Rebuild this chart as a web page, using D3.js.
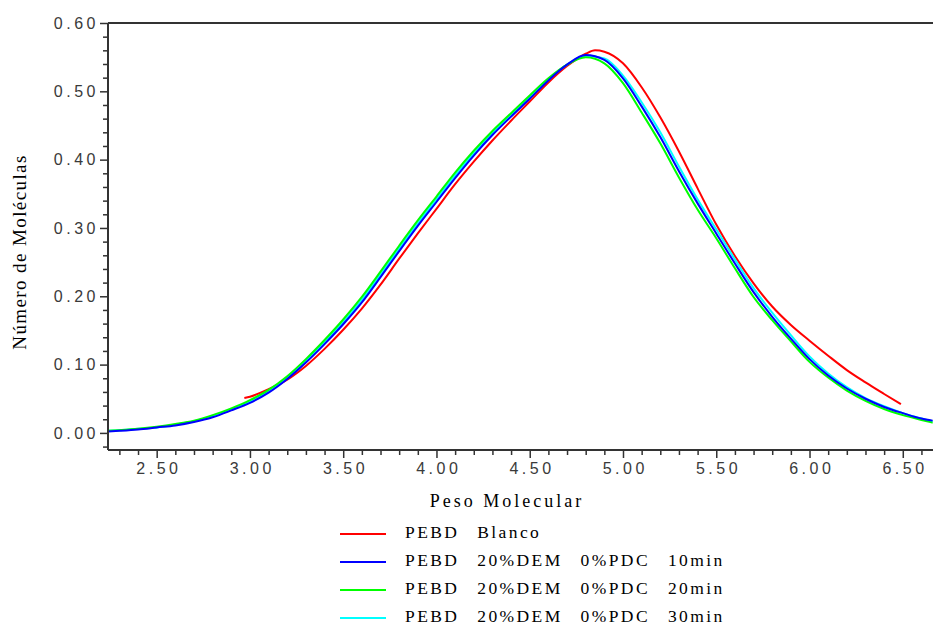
<!DOCTYPE html>
<html>
<head>
<meta charset="utf-8">
<script src="https://cdn.jsdelivr.net/npm/d3@7/dist/d3.min.js"></script>
<style>
  html, body { margin: 0; padding: 0; background: #fff; }
  svg { display: block; }
</style>
</head>
<body>
<svg id="chart" width="933" height="626"></svg>
<script>
// ---------------- data ----------------
const xBase = [2.24, 2.3, 2.4, 2.5, 2.6, 2.7, 2.8, 2.9, 3.0, 3.1, 3.2, 3.3, 3.4, 3.5, 3.6, 3.7, 3.8, 3.9,
  4.0, 4.1, 4.2, 4.3, 4.4, 4.5, 4.6, 4.7, 4.8, 4.9, 5.0, 5.1, 5.2, 5.3, 5.4, 5.5, 5.6, 5.7, 5.8, 5.9,
  6.0, 6.1, 6.2, 6.3, 6.4, 6.5, 6.6, 6.66];

const blue10 = [0.002, 0.003, 0.005, 0.008, 0.011, 0.016, 0.023, 0.033, 0.044, 0.059, 0.079, 0.103, 0.130,
  0.159, 0.191, 0.228, 0.266, 0.303, 0.338, 0.373, 0.406, 0.436, 0.463, 0.489, 0.516, 0.539, 0.553, 0.546,
  0.519, 0.478, 0.433, 0.383, 0.336, 0.292, 0.248, 0.206, 0.170, 0.138, 0.108, 0.084, 0.065, 0.050, 0.038,
  0.029, 0.021, 0.018];

const green20 = [0.003, 0.004, 0.006, 0.009, 0.013, 0.018, 0.026, 0.036, 0.048, 0.063, 0.083, 0.108, 0.136,
  0.166, 0.199, 0.236, 0.274, 0.311, 0.346, 0.381, 0.413, 0.442, 0.468, 0.494, 0.519, 0.539, 0.550, 0.541,
  0.512, 0.469, 0.424, 0.374, 0.327, 0.285, 0.241, 0.199, 0.165, 0.134, 0.104, 0.081, 0.062, 0.047, 0.035,
  0.026, 0.019, 0.015];

const cyan30 = [0.003, 0.004, 0.006, 0.008, 0.012, 0.017, 0.024, 0.034, 0.046, 0.061, 0.081, 0.106, 0.133,
  0.162, 0.195, 0.232, 0.270, 0.307, 0.342, 0.377, 0.409, 0.439, 0.465, 0.491, 0.517, 0.539, 0.552, 0.548,
  0.523, 0.484, 0.440, 0.390, 0.342, 0.298, 0.254, 0.212, 0.176, 0.143, 0.112, 0.087, 0.067, 0.051, 0.039,
  0.029, 0.021, 0.017];

const xRed = [2.97, 3.0, 3.1, 3.2, 3.3, 3.4, 3.5, 3.6, 3.7, 3.8, 3.9, 4.0, 4.1, 4.2, 4.3, 4.4, 4.5, 4.6,
  4.7, 4.8, 4.85, 4.9, 5.0, 5.1, 5.2, 5.3, 5.4, 5.5, 5.6, 5.7, 5.8, 5.9, 6.0, 6.1, 6.2, 6.3, 6.4, 6.49];
const redBlanco = [0.051, 0.053, 0.064, 0.078, 0.098, 0.123, 0.151, 0.182, 0.217, 0.255, 0.292, 0.328,
  0.364, 0.397, 0.428, 0.457, 0.485, 0.513, 0.537, 0.555, 0.560, 0.558, 0.541, 0.506, 0.462, 0.412, 0.358,
  0.305, 0.259, 0.219, 0.185, 0.158, 0.135, 0.113, 0.092, 0.074, 0.057, 0.042];

const seriesNames = ["PEBD  Blanco", "PEBD  20%DEM  0%PDC  10min", "PEBD  20%DEM  0%PDC  20min", "PEBD  20%DEM  0%PDC  30min"];
const seriesColors = ["#ff0000", "#0000ff", "#00ff00", "#00ffff"];

const xMajorTicks = [2.5, 3.0, 3.5, 4.0, 4.5, 5.0, 5.5, 6.0, 6.5];
const yMajorTicks = [0.0, 0.1, 0.2, 0.3, 0.4, 0.5, 0.6];
const xTitle = "Peso Molecular";
const yTitle = "Número de Moléculas";

// ---------------- drawing ----------------
(function () {
const svg = d3.select("#chart");
const pL = 108, pR = 933, pT = 23, pB = 450;

const x = d3.scaleLinear().domain([2.239, 6.662]).range([pL, pR]);
const y = d3.scaleLinear().domain([-0.025, 0.6]).range([pB, pT]);

const axisColor = "#333";
const tickFont = "'Liberation Sans', Arial, sans-serif";
const serif = "'Liberation Serif', 'DejaVu Serif', serif";

// curves
const series = [
  { xs: xRed, ys: redBlanco, color: seriesColors[0] },
  { xs: xBase, ys: cyan30, color: seriesColors[3] },
  { xs: xBase, ys: green20, color: seriesColors[2] },
  { xs: xBase, ys: blue10, color: seriesColors[1] }
];
const line = d3.line().x(d => x(d[0])).y(d => y(d[1])).curve(d3.curveMonotoneX);
svg.append("clipPath").attr("id", "clip").append("rect")
  .attr("x", pL).attr("y", pT).attr("width", pR - pL).attr("height", pB - pT);
series.forEach(s => {
  svg.append("path")
    .datum(s.xs.map((v, i) => [v, s.ys[i]]))
    .attr("d", line)
    .attr("fill", "none")
    .attr("stroke", s.color)
    .attr("stroke-width", 2)
    .attr("clip-path", "url(#clip)");
});

// y axis (major)
const yAxis = d3.axisLeft(y).tickValues(yMajorTicks).tickFormat(d3.format(".2f")).tickSize(8).tickPadding(4);
const gy = svg.append("g").attr("transform", `translate(${pL},0)`).call(yAxis);
const yMinor = d3.range(-0.02, 0.6, 0.02).filter(v => Math.abs(Math.round(v * 10) - v * 10) > 1e-6);
svg.append("g").attr("transform", `translate(${pL},0)`)
  .call(d3.axisLeft(y).tickValues(yMinor).tickFormat("").tickSize(5))
  .call(g => g.select(".domain").remove());

// x axis (major)
const xAxis = d3.axisBottom(x).tickValues(xMajorTicks).tickFormat(d3.format(".2f")).tickSize(8).tickPadding(5);
const gx = svg.append("g").attr("transform", `translate(0,${pB})`).call(xAxis);
const xMinor = d3.range(2.3, 6.65, 0.1).filter(v => Math.abs(Math.round(v * 2) - v * 2) > 1e-6);
svg.append("g").attr("transform", `translate(0,${pB})`)
  .call(d3.axisBottom(x).tickValues(xMinor).tickFormat("").tickSize(5))
  .call(g => g.select(".domain").remove());

svg.selectAll(".domain").attr("stroke", axisColor).attr("stroke-width", 2);
svg.selectAll(".tick line").attr("stroke", axisColor).attr("stroke-width", 1.5);
gy.select(".domain").attr("d", `M0,${pT}V${pB}`);
gx.select(".domain").attr("d", `M${pL},0H${pR}`);

svg.selectAll(".tick text")
  .attr("font-family", tickFont)
  .attr("font-size", 16)
  .attr("fill", "#3a3a3a")
  .style("letter-spacing", "3.5px");
gx.selectAll(".tick text").attr("dx", "1.75px");
gy.selectAll(".tick text").attr("dx", "3px");

// top border line
svg.append("line")
  .attr("x1", pL).attr("x2", pR)
  .attr("y1", y(0.6)).attr("y2", y(0.6))
  .attr("stroke", axisColor).attr("stroke-width", 2);

// titles
svg.append("text")
  .attr("x", 507).attr("y", 507)
  .attr("text-anchor", "middle")
  .attr("font-family", serif).attr("font-size", 18)
  .style("letter-spacing", "3px")
  .attr("fill", "#000")
  .text(xTitle);

svg.append("text")
  .attr("transform", "translate(26,252) rotate(-90)")
  .attr("text-anchor", "middle")
  .attr("font-family", serif).attr("font-size", 19)
  .style("letter-spacing", "1.4px")
  .attr("fill", "#000")
  .text(yTitle);

// legend
const legend = svg.append("g");
seriesNames.forEach((name, i) => {
  const yy = 534 + i * 28;
  legend.append("line")
    .attr("x1", 340).attr("x2", 386)
    .attr("y1", yy).attr("y2", yy)
    .attr("stroke", seriesColors[i]).attr("stroke-width", 2);
  legend.append("text")
    .attr("x", 405).attr("y", yy + 4)
    .attr("font-family", serif).attr("font-size", 17.5)
    .style("letter-spacing", "2.4px")
    .style("word-spacing", "2.2px")
    .style("white-space", "pre")
    .attr("xml:space", "preserve")
    .attr("fill", "#000")
    .text(name);
});
})();
</script>
</body>
</html>
